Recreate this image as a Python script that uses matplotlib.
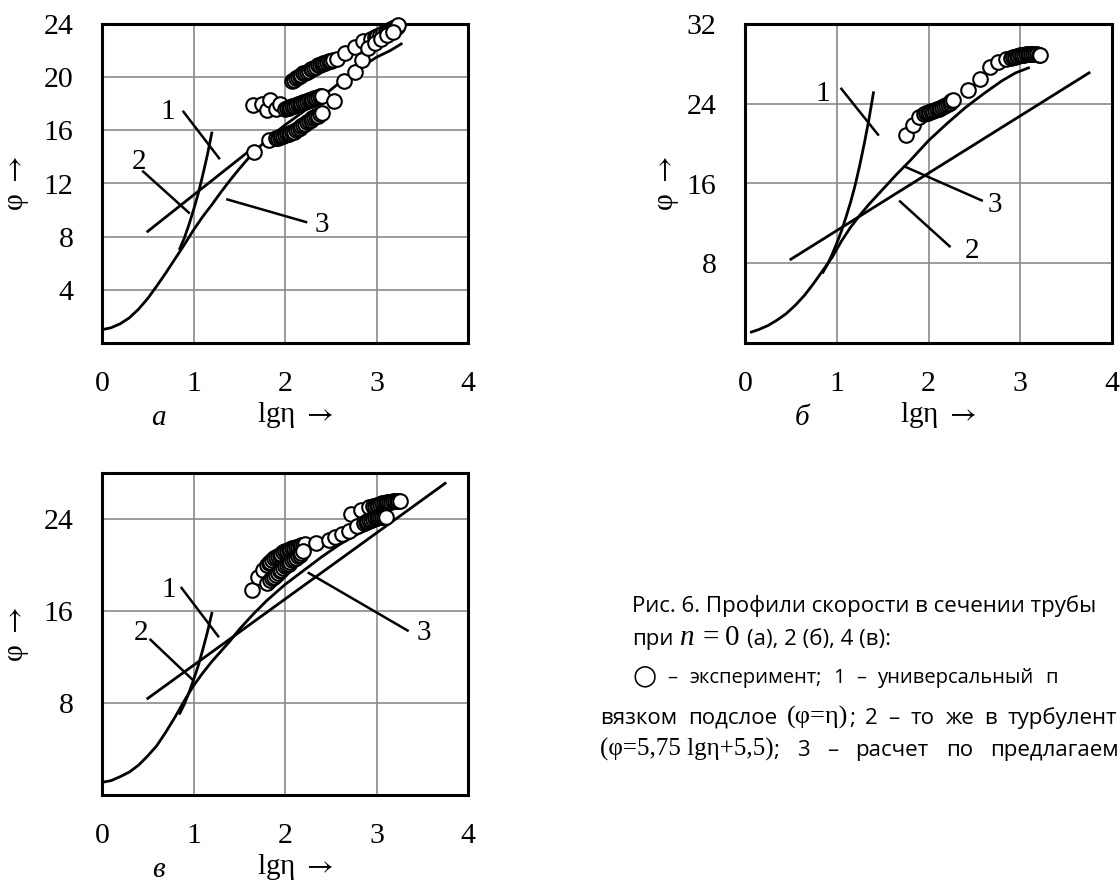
import matplotlib
matplotlib.use("Agg")
import matplotlib.pyplot as plt

plt.rcParams["mathtext.fontset"] = "stix"

W, H = 1120, 883

# ---------------- data ----------------
x_ticks = [0, 1, 2, 3, 4]

# panel а (n = 0)
a_exp1_x = [2.08, 2.10, 2.12, 2.14, 2.16, 2.18, 2.20, 2.22, 2.24, 2.26, 2.28, 2.30, 2.32,
            2.34, 2.36, 2.38, 2.40, 2.42, 2.44, 2.46, 2.48, 2.50, 2.53, 2.57,
            2.66, 2.76, 2.85, 2.94, 2.98, 3.01, 3.04, 3.07, 3.10, 3.12, 3.14, 3.16,
            3.18, 3.20, 3.22, 3.24]
a_exp1_y = [19.7, 19.8, 19.9, 20.0, 20.1, 20.2, 20.3, 20.35, 20.4, 20.5, 20.6, 20.65, 20.7,
            20.8, 20.9, 20.95, 21.0, 21.05, 21.1, 21.15, 21.2, 21.25, 21.3, 21.4,
            21.8, 22.3, 22.7, 22.9, 23.0, 23.1, 23.2, 23.3, 23.4, 23.5, 23.55, 23.6,
            23.7, 23.75, 23.8, 23.9]
a_exp2_x = [1.65, 1.75, 1.80, 1.84, 1.90, 1.95,
            2.00, 2.02, 2.04, 2.06, 2.08, 2.10, 2.12, 2.14, 2.16, 2.18, 2.20, 2.22, 2.24,
            2.26, 2.28, 2.30, 2.32, 2.34, 2.36, 2.38, 2.40,
            2.54, 2.65, 2.76, 2.84, 2.91, 2.98, 3.05, 3.12, 3.18]
a_exp2_y = [17.9, 18.0, 17.5, 18.3, 17.6, 18.0,
            17.6, 17.65, 17.7, 17.75, 17.8, 17.85, 17.9, 17.95, 18.0, 18.05, 18.1, 18.15, 18.2,
            18.25, 18.3, 18.35, 18.4, 18.45, 18.5, 18.55, 18.6,
            18.2, 19.7, 20.4, 21.3, 22.2, 22.6, 22.9, 23.2, 23.4]
a_exp3_x = [1.66, 1.82, 1.90, 1.92, 1.94, 1.96, 1.98, 2.00, 2.02, 2.04, 2.06, 2.08, 2.10,
            2.12, 2.14, 2.16, 2.18, 2.20, 2.22, 2.24, 2.26, 2.28, 2.30, 2.32, 2.34, 2.36,
            2.38, 2.40]
a_exp3_y = [14.4, 15.3, 15.4, 15.45, 15.5, 15.55, 15.6, 15.65, 15.7, 15.75, 15.8, 15.85, 15.9,
            16.0, 16.1, 16.2, 16.3, 16.4, 16.5, 16.6, 16.7, 16.8, 16.9, 17.0, 17.05, 17.1,
            17.2, 17.3]
a_c1_x = [0.85, 0.90, 0.95, 1.00, 1.05, 1.10, 1.15, 1.20]
a_c1_y = [7.1, 7.9, 8.9, 10.0, 11.2, 12.6, 14.1, 15.8]
a_c2_x = [0.50, 1.60]
a_c2_y = [8.4, 14.4]
a_c3_x = [0.0, 0.1, 0.2, 0.3, 0.4, 0.5, 0.6, 0.7, 0.8, 0.9, 1.0, 1.1, 1.2, 1.3, 1.4, 1.5,
          1.6, 1.7, 1.8, 2.0, 2.2, 2.4, 2.6, 2.8, 3.0, 3.15, 3.27]
a_c3_y = [1.0, 1.15, 1.45, 1.9, 2.55, 3.35, 4.3, 5.3, 6.35, 7.4, 8.5, 9.5, 10.4, 11.35,
          12.25, 13.1, 13.9, 14.6, 15.3, 16.4, 17.4, 18.5, 19.6, 20.6, 21.5, 22.0, 22.5]

# panel б (n = 2)
b_exp_x = [1.76, 1.83, 1.90,
           1.95, 1.97, 1.99, 2.01, 2.03, 2.05, 2.07, 2.09, 2.11, 2.13, 2.15, 2.17, 2.19,
           2.21, 2.23, 2.25, 2.27,
           2.43, 2.56, 2.67, 2.76, 2.84,
           2.90, 2.92, 2.94, 2.96, 2.98, 3.00, 3.02, 3.04, 3.06, 3.08, 3.10, 3.12, 3.14,
           3.16, 3.18, 3.20, 3.22]
b_exp_y = [20.9, 21.9, 22.7,
           23.0, 23.05, 23.1, 23.2, 23.25, 23.3, 23.4, 23.45, 23.5, 23.6, 23.7, 23.8, 23.9,
           24.0, 24.1, 24.25, 24.4,
           25.4, 26.5, 27.7, 28.2, 28.5,
           28.6, 28.65, 28.7, 28.75, 28.8, 28.85, 28.9, 28.9, 28.95, 29.0, 29.0, 29.0, 29.0,
           29.0, 28.95, 28.9, 28.9]
b_c1_x = [0.85, 0.90, 0.95, 1.00, 1.05, 1.10, 1.15, 1.20, 1.25, 1.30, 1.35, 1.40]
b_c1_y = [7.1, 7.9, 8.9, 10.0, 11.2, 12.6, 14.1, 15.8, 17.8, 20.0, 22.4, 25.1]
b_c2_x = [0.50, 3.75]
b_c2_y = [8.4, 27.1]
b_c3_x = [0.07, 0.15, 0.25, 0.35, 0.45, 0.55, 0.65, 0.75, 0.85, 0.95, 1.05, 1.15, 1.25,
          1.35, 1.45, 1.55, 1.65, 1.8, 2.0, 2.2, 2.4, 2.6, 2.8, 2.95, 3.09]
b_c3_y = [1.1, 1.35, 1.75, 2.3, 2.95, 3.8, 4.8, 6.0, 7.3, 8.6, 10.2, 11.6, 12.8,
          13.9, 14.9, 15.9, 16.9, 18.3, 20.3, 22.0, 23.6, 25.0, 26.3, 27.1, 27.6]

# panel в (n = 4)
c_exp1_x = [1.64, 1.71, 1.76,
            1.80, 1.82, 1.84, 1.86, 1.88, 1.90, 1.92, 1.94, 1.96, 1.98, 2.00, 2.02, 2.04,
            2.06, 2.08, 2.10, 2.12, 2.14, 2.16, 2.18, 2.20, 2.22,
            2.34, 2.72, 2.83, 2.92,
            2.96, 2.98, 3.00, 3.02, 3.04, 3.06, 3.08, 3.10, 3.12, 3.14, 3.16, 3.18, 3.20,
            3.22, 3.24, 3.26]
c_exp1_y = [17.8, 19.0, 19.6,
            20.0, 20.15, 20.3, 20.45, 20.6, 20.7, 20.8, 20.9, 21.0, 21.1, 21.2, 21.25, 21.3,
            21.4, 21.45, 21.5, 21.55, 21.6, 21.65, 21.7, 21.75, 21.8,
            21.9, 24.4, 24.8, 25.05,
            25.1, 25.15, 25.2, 25.25, 25.3, 25.35, 25.4, 25.4, 25.45, 25.5, 25.5, 25.55, 25.6,
            25.6, 25.6, 25.6]
c_exp2_x = [1.80,
            1.84, 1.86, 1.88, 1.90, 1.92, 1.94, 1.96, 1.98, 2.00, 2.02, 2.04, 2.06, 2.08,
            2.10, 2.12, 2.14, 2.16, 2.18, 2.20,
            2.48, 2.55, 2.62, 2.70, 2.79,
            2.86, 2.88, 2.90, 2.92, 2.94, 2.96, 2.98, 3.00, 3.02, 3.04, 3.06, 3.08, 3.10]
c_exp2_y = [18.4,
            18.7, 18.85, 19.0, 19.15, 19.3, 19.45, 19.6, 19.75, 19.9, 20.0, 20.1, 20.25, 20.4,
            20.5, 20.6, 20.75, 20.9, 21.05, 21.2,
            22.2, 22.4, 22.7, 23.0, 23.4,
            23.65, 23.75, 23.85, 23.9, 23.95, 24.0, 24.05, 24.1, 24.15, 24.15, 24.2, 24.2, 24.2]
c_c1_x = [0.85, 0.90, 0.95, 1.00, 1.05, 1.10, 1.15, 1.20]
c_c1_y = [7.1, 7.9, 8.9, 10.0, 11.2, 12.6, 14.1, 15.8]
c_c2_x = [0.50, 3.75]
c_c2_y = [8.4, 27.1]
c_c3_x = [0.0, 0.1, 0.2, 0.3, 0.4, 0.5, 0.6, 0.7, 0.8, 0.9, 1.0, 1.1, 1.2, 1.3, 1.4, 1.5,
          1.65, 1.8, 2.0, 2.2, 2.4, 2.6, 2.8, 3.0, 3.15]
c_c3_y = [1.1, 1.25, 1.6, 2.0, 2.6, 3.4, 4.3, 5.5, 6.8, 8.2, 9.5, 10.6, 11.6, 12.5, 13.4,
          14.4, 15.7, 16.9, 18.3, 19.5, 20.7, 21.8, 22.7, 23.4, 24.0]

# curve labels: (text, text_xy, leader_start, leader_end)
a_labels = [("1", (0.72, 17.4), (0.89, 17.4), (1.28, 13.9)),
            ("2", (0.40, 13.6), (0.45, 12.9), (0.95, 9.8)),
            ("3", (2.40, 8.9), (1.37, 10.8), (2.23, 9.1))]
b_labels = [("1", (0.85, 25.0), (1.05, 25.5), (1.45, 20.9)),
            ("3", (2.72, 13.8), (1.74, 17.7), (2.58, 14.3)),
            ("2", (2.47, 9.2), (1.69, 14.2), (2.23, 9.7))]
c_labels = [("1", (0.73, 17.8), (0.87, 18.0), (1.27, 13.8)),
            ("2", (0.43, 14.1), (0.53, 13.5), (0.98, 10.1)),
            ("3", (3.52, 14.1), (2.26, 19.3), (3.34, 14.3))]

SERIF = "Liberation Serif"
SANS = ["Open Sans", "DejaVu Sans"]


def rect(left, top, right, bottom):
    return [left / W, 1 - bottom / H, (right - left) / W, (bottom - top) / H]


def draw_panel(fig, box, ylim, yticks, experiments, c1, c2, c3, labels, letter, ylab_x):
    ax = fig.add_axes(rect(*box))
    ax.set_xlim(0, 4)
    ax.set_ylim(*ylim)
    ax.set_xticks(x_ticks)
    ax.set_yticks(yticks)
    ax.grid(True, color="#8a8a8a", lw=1.2)
    ax.set_axisbelow(True)
    for s in ax.spines.values():
        s.set_linewidth(2.2)
    ax.tick_params(length=0, labelsize=21.5)
    ax.tick_params(axis="x", pad=20)
    ax.tick_params(axis="y", pad=20.5)
    for t in ax.get_xticklabels() + ax.get_yticklabels():
        t.set_fontfamily(SERIF)

    for xs, ys in (c1, c2, c3):
        ax.plot(xs, ys, color="black", lw=2.0, zorder=2, solid_joinstyle="round")
    for xs, ys in experiments:
        ax.plot(xs, ys, "o", ms=10.5, mfc="white", mec="black", mew=1.5,
                clip_on=False, zorder=3)

    for txt, pos, p0, p1 in labels:
        ax.plot([p0[0], p1[0]], [p0[1], p1[1]], color="black", lw=1.8, zorder=2)
        ax.text(pos[0], pos[1], txt, fontsize=21, family=SERIF, ha="center", va="center")

    left, top, right, bottom = box
    fig.text((left + 0.527 * (right - left)) / W, 1 - (bottom + 72) / H, r"lgη $\rightarrow$",
             fontsize=21, family=SERIF, ha="center", va="center")
    fig.text((left + 0.155 * (right - left)) / W, 1 - (bottom + 75) / H, letter,
             fontsize=21, family=SERIF, style="italic", ha="center", va="center")
    fig.text(ylab_x / W, 1 - (top + bottom) / 2 / H, r"φ $\rightarrow$", fontsize=21,
             family=SERIF, rotation=90, ha="center", va="center")
    return ax


def put_line(fig, x0, y0, pieces, x_end=None, gap=5):
    # pieces: (text, font kwargs, space after it: 0 or 1)
    r = fig.canvas.get_renderer()
    texts = [fig.text(0, 1 - y0 / H, txt, ha="left", va="baseline", **kw)
             for txt, kw, sp in pieces]
    widths = [t.get_window_extent(renderer=r).width for t in texts]
    n_sp = sum(sp for _, _, sp in pieces)
    if x_end is not None and n_sp:
        gap = (x_end - x0 - sum(widths)) / n_sp
    x = x0
    for t, w, (_, _, sp) in zip(texts, widths, pieces):
        t.set_x(x / W)
        x += w + gap * sp


fig = plt.figure(figsize=(W / 100, H / 100), dpi=100)

draw_panel(fig, (102, 24, 468, 343), (0, 24), [4, 8, 12, 16, 20, 24],
           [(a_exp1_x, a_exp1_y), (a_exp2_x, a_exp2_y), (a_exp3_x, a_exp3_y)],
           (a_c1_x, a_c1_y), (a_c2_x, a_c2_y), (a_c3_x, a_c3_y), a_labels, "а", 18)
draw_panel(fig, (745, 24, 1112, 343), (0, 32), [8, 16, 24, 32],
           [(b_exp_x, b_exp_y)],
           (b_c1_x, b_c1_y), (b_c2_x, b_c2_y), (b_c3_x, b_c3_y), b_labels, "б", 668)
draw_panel(fig, (102, 473, 468, 795), (0, 28), [8, 16, 24],
           [(c_exp1_x, c_exp1_y), (c_exp2_x, c_exp2_y)],
           (c_c1_x, c_c1_y), (c_c2_x, c_c2_y), (c_c3_x, c_c3_y), c_labels, "в", 18)

# caption (the reference is cut at the right edge, only the visible part is kept)
sans = dict(family=SANS, fontsize=16)
sans_s = dict(family=SANS, fontsize=14.5)
serif = dict(family=SERIF, fontsize=19)
put_line(fig, 632, 612, [("Рис. 6. Профили скорости в сечении трубы", sans, 0)])
put_line(fig, 632, 645, [("при", sans, 1),
                         ("n", dict(family=SERIF, fontsize=21, style="italic"), 1),
                         ("=", dict(family=SERIF, fontsize=21), 1),
                         ("0", dict(family=SERIF, fontsize=21), 1),
                         ("(а), 2 (б), 4 (в):", sans, 0)], gap=7)
line3 = [("○", dict(family=["DejaVu Sans"], fontsize=20), 1)]
line3 += [(w, sans_s, 1) for w in ["–", "эксперимент;", "1", "–", "универсальный"]]
line3 += [("п", sans_s, 0)]
put_line(fig, 632, 683, line3, x_end=1058)
line4 = [("вязком", sans, 1), ("подслое", sans, 1), ("(φ=η)", serif, 0), (";", sans, 1)]
line4 += [(w, sans, 1) for w in ["2", "–", "то", "же", "в"]]
line4 += [("турбулент", sans, 0)]
put_line(fig, 600, 724, line4, x_end=1117)
line5 = [("(φ=5,75 lgη+5,5)", dict(family=SERIF, fontsize=18), 0), (";", sans, 1)]
line5 += [(w, sans, 1) for w in ["3", "–", "расчет", "по"]]
line5 += [("предлагаем", sans, 0)]
put_line(fig, 600, 756, line5, x_end=1119)

fig.savefig("out.png", dpi=100)
